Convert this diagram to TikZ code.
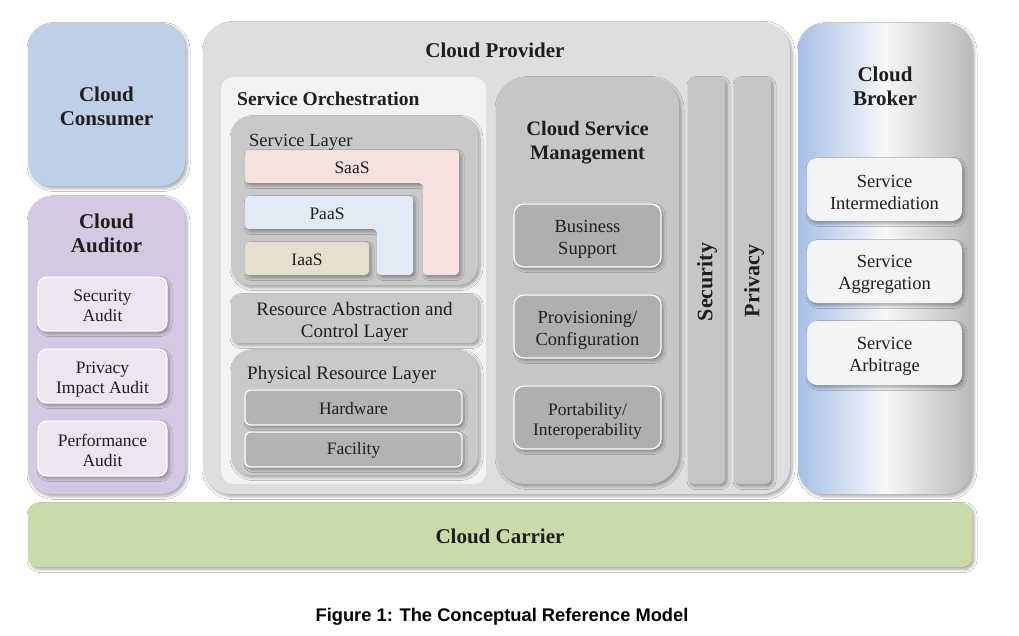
\documentclass[tikz,border=0pt]{standalone}
\usepackage{fontspec}
\setmainfont{Liberation Serif}
\newfontfamily\capfont{Liberation Sans}
\usetikzlibrary{shadows,shadows.blur}
\definecolor{consumer}{HTML}{BED0E8}
\definecolor{auditor}{HTML}{D3C9E2}
\definecolor{auditbox}{HTML}{EBE6F1}
\definecolor{provider}{HTML}{DEDEDE}
\definecolor{orch}{HTML}{F3F3F3}
\definecolor{layergray}{HTML}{C9C9C9}
\definecolor{hwgray}{HTML}{B3B3B3}
\definecolor{csm}{HTML}{C6C6C6}
\definecolor{bizgray}{HTML}{AFAFAF}
\definecolor{brokerblue}{HTML}{A6BFE8}
\definecolor{brokergray}{HTML}{BABABA}
\definecolor{brokerbox}{HTML}{F4F4F4}
\definecolor{carrier}{HTML}{CADBA9}
\definecolor{saas}{HTML}{F6E1E1}
\definecolor{paas}{HTML}{E4EAF5}
\definecolor{iaas}{HTML}{E4E0CD}
\definecolor{ink}{HTML}{1E1E1E}
\begin{document}
\begin{tikzpicture}[x=1pt,y=-1pt,
  box/.style={rectangle, inner sep=0pt, draw=none, align=center, text=ink},
  shad/.style={blur shadow={shadow blur steps=6, shadow xshift=2pt, shadow yshift=-2.5pt, shadow opacity=35, shadow blur radius=3pt}},
  wb/.style={draw=white, line width=1.2pt},
  titlef/.style={font=\fontsize{21}{24}\selectfont\bfseries},
  txt/.style={font=\fontsize{18.5}{22}\selectfont},
  smalltxt/.style={font=\fontsize{17.5}{20}\selectfont},
]
\useasboundingbox (0,0) rectangle (1019,636);
\fill[white] (0,0) rectangle (1019,636);

% Cloud Consumer
\node[box, fill=consumer, rounded corners=24pt, minimum width=157pt, minimum height=163pt, shad] (consumer) at (106.5,104.5) {};
\node[box, titlef] (consumerT) at (106.5,106) {Cloud\\Consumer};

% Cloud Auditor
\node[box, fill=auditor, rounded corners=24pt, minimum width=157pt, minimum height=298pt, shad] (auditor) at (106.5,345) {};
\node[box, titlef] (auditorT) at (106.5,233) {Cloud\\Auditor};
\node[box, fill=auditbox, wb, rounded corners=9pt, minimum width=129pt, minimum height=54pt, shad] (secaudit) at (102.5,304) {};
\node[box, smalltxt] (secauditT) at (102.5,305.5) {Security\\Audit};
\node[box, fill=auditbox, wb, rounded corners=9pt, minimum width=129pt, minimum height=54pt, shad] (privaudit) at (102.5,376) {};
\node[box, smalltxt] (privauditT) at (102.5,379.5) {Privacy\\Impact Audit};
\node[box, fill=auditbox, wb, rounded corners=9pt, minimum width=129pt, minimum height=55pt, shad] (perfaudit) at (102.5,448.5) {};
\node[box, smalltxt] (perfauditT) at (102.5,450.5) {Performance\\Audit};

% Cloud Provider
\node[box, fill=provider, rounded corners=28pt, minimum width=587pt, minimum height=472pt, shad] (provider) at (496.5,258) {};
\node[box, titlef] (providerT) at (495,50) {Cloud Provider};

% Service Orchestration
\node[box, fill=orch, rounded corners=12pt, minimum width=265pt, minimum height=407pt] (orch) at (353.5,280.5) {};
\node[box, anchor=west, font=\fontsize{19.5}{22}\selectfont\bfseries] (orchT) at (237,99) {Service Orchestration};

% Service Layer
\node[box, fill=layergray, rounded corners=20pt, minimum width=247pt, minimum height=169pt, shad] (slayer) at (354.5,200.5) {};
\node[box, anchor=west, txt] (slayerT) at (249,142) {Service Layer};
\path[fill=saas, rounded corners=4pt, shad] (245,150) -- (459,150) -- (459,275) -- (423,275) -- (423,183) -- (245,183) -- cycle;
\node[box, smalltxt] (saasT) at (352,167.5) {SaaS};
\path[fill=paas, rounded corners=4pt, shad] (245,196) -- (413,196) -- (413,275) -- (377,275) -- (377,229) -- (245,229) -- cycle;
\node[box, smalltxt] (paasT) at (327,213.5) {PaaS};
\node[box, fill=iaas, rounded corners=4pt, minimum width=124pt, minimum height=33pt, shad] (iaas) at (307,258.5) {};
\node[box, smalltxt] (iaasT) at (307,259.5) {IaaS};

% Resource Abstraction
\node[box, fill=layergray, rounded corners=8pt, minimum width=247pt, minimum height=49pt, shad] (rabs) at (354.5,318.5) {};
\node[box, font=\fontsize{19}{22}\selectfont] (rabsT) at (354.5,322) {Resource Abstraction and\\Control Layer};

% Physical Resource Layer
\node[box, fill=layergray, rounded corners=20pt, minimum width=247pt, minimum height=125pt, shad] (phys) at (354.5,412.5) {};
\node[box, anchor=west, font=\fontsize{19}{22}\selectfont] (physT) at (247,375) {Physical Resource Layer};
\node[box, fill=hwgray, wb, rounded corners=6pt, minimum width=217pt, minimum height=35pt, shad] (hw) at (353.5,407.5) {};
\node[box, smalltxt] (hwT) at (353.5,408.5) {Hardware};
\node[box, fill=hwgray, wb, rounded corners=6pt, minimum width=217pt, minimum height=35pt, shad] (fac) at (353.5,449.5) {};
\node[box, smalltxt] (facT) at (353.5,450.5) {Facility};

% Cloud Service Management
\node[box, fill=csm, rounded corners=30pt, minimum width=183pt, minimum height=407pt, shad] (csm) at (587.5,280.5) {};
\node[box, font=\fontsize{20.5}{24}\selectfont\bfseries] (csmT) at (587.5,143) {Cloud Service\\Management};
\node[box, fill=bizgray, wb, rounded corners=10pt, minimum width=147pt, minimum height=63pt, shad] (biz) at (587.5,235.5) {};
\node[box, txt] (bizT) at (587.5,239) {Business\\Support};
\node[box, fill=bizgray, wb, rounded corners=10pt, minimum width=147pt, minimum height=63pt, shad] (prov) at (587.5,326.5) {};
\node[box, txt] (provT) at (587.5,330.5) {Provisioning/\\Configuration};
\node[box, fill=bizgray, wb, rounded corners=10pt, minimum width=147pt, minimum height=63pt, shad] (port) at (587.5,417.5) {};
\node[box, smalltxt] (portT) at (587.5,421) {Portability/\\Interoperability};

% Security / Privacy
\node[box, fill=csm, rounded corners=6pt, minimum width=37pt, minimum height=407pt, shad] (sec) at (706.5,280.5) {};
\node[box, rotate=90, font=\fontsize{22}{24}\selectfont\bfseries] (secT) at (707,282) {Security};
\node[box, fill=csm, rounded corners=6pt, minimum width=37pt, minimum height=407pt, shad] (priv) at (752.5,280.5) {};
\node[box, rotate=90, font=\fontsize{22}{24}\selectfont\bfseries] (privT) at (754,281) {Privacy};

% Cloud Broker
\node[box, left color=brokerblue, right color=brokergray, middle color=white!94!gray, rounded corners=26pt, minimum width=174pt, minimum height=471pt, shad] (broker) at (885,258.5) {};
\node[box, titlef] (brokerT) at (885,86) {Cloud\\Broker};
\node[box, fill=brokerbox, rounded corners=10pt, minimum width=155pt, minimum height=63pt, shad] (inter) at (884.5,189.5) {};
\node[box, txt] (interT) at (884.5,192) {Service\\Intermediation};
\node[box, fill=brokerbox, rounded corners=10pt, minimum width=155pt, minimum height=63pt, shad] (aggr) at (884.5,271.5) {};
\node[box, txt] (aggrT) at (884.5,274.5) {Service\\Aggregation};
\node[box, fill=brokerbox, rounded corners=10pt, minimum width=155pt, minimum height=64pt, shad] (arb) at (884.5,353) {};
\node[box, txt] (arbT) at (884.5,356) {Service\\Arbitrage};

% Cloud Carrier
\node[box, fill=carrier, rounded corners=10pt, minimum width=944pt, minimum height=64pt, shad] (carrierN) at (500,535) {};
\node[box, titlef] (carrierT) at (500,536) {Cloud Carrier};

% Caption
\node[box, text=black, font=\capfont\fontsize{18.3}{20}\selectfont\bfseries] (caption) at (502,617) {Figure 1: The Conceptual Reference Model};
\end{tikzpicture}
\end{document}
